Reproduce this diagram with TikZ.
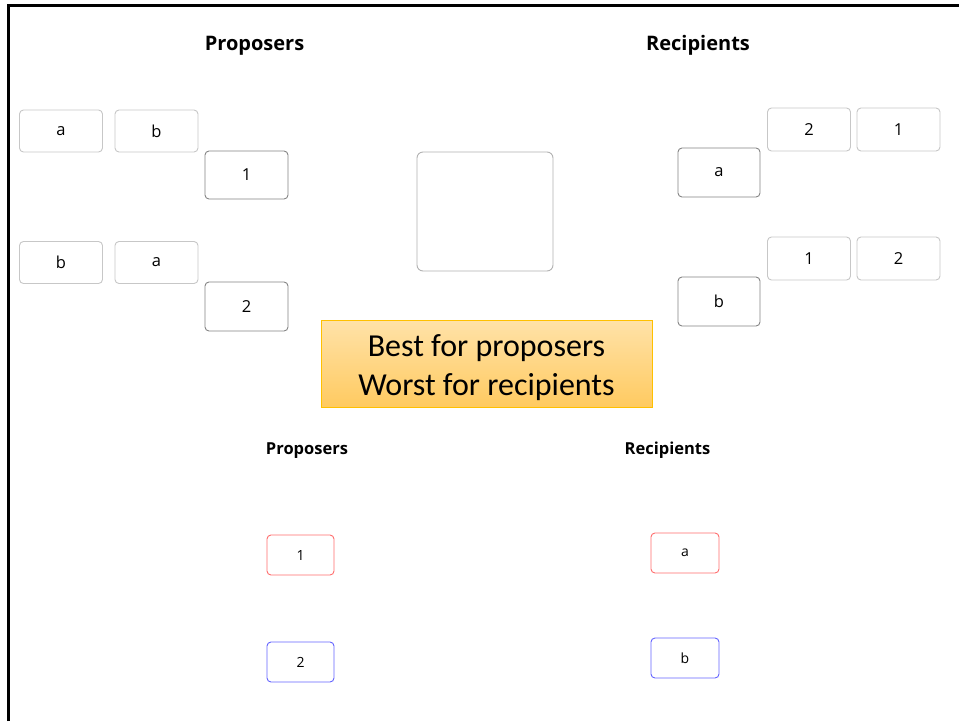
\documentclass[tikz,border=0pt]{standalone}
\usepackage{fontspec}
\setmainfont{Open Sans}
\newfontfamily\calfont{Carlito}
\begin{document}
\begin{tikzpicture}[x=1pt,y=-1pt,
  pref/.style={draw=black!22, line width=0.9pt, rounded corners=4pt, inner sep=0pt, minimum width=83pt, minimum height=42pt, font=\fontsize{16.5}{20}\selectfont},
  agent/.style={draw=black!48, line width=0.9pt, rounded corners=4pt, inner sep=0pt, minimum width=83pt, minimum height=48pt, font=\fontsize{16.5}{20}\selectfont},
  title/.style={inner sep=0pt, font=\bfseries\fontsize{20}{24}\selectfont},
  smalltitle/.style={inner sep=0pt, font=\bfseries\fontsize{16.5}{20}\selectfont},
  redbox/.style={draw={rgb,255:red,255;green,110;blue,110}, line width=0.9pt, rounded corners=4pt, inner sep=0pt, minimum width=68pt, minimum height=40pt, font=\fontsize{14}{17}\selectfont},
  bluebox/.style={draw={rgb,255:red,100;green,100;blue,255}, line width=0.9pt, rounded corners=4pt, inner sep=0pt, minimum width=68pt, minimum height=40pt, font=\fontsize{14}{17}\selectfont},
  note/.style={draw={rgb,255:red,255;green,192;blue,0}, line width=0.9pt, top color={rgb,255:red,255;green,226;blue,168}, bottom color={rgb,255:red,255;green,202;blue,96}, inner sep=0pt, minimum width=331pt, minimum height=87pt, align=center, font=\calfont\fontsize{32}{39}\selectfont}
]
\useasboundingbox (0,0) rectangle (959,721);
\fill[white] (0,0) rectangle (959,721);
\draw[line width=2.5pt] (8.3,721) -- (8.3,5.5) -- (959,5.5);

% titles
\node[title] (tprop) at (254.5,45.5) {Proposers};
\node[title] (trec) at (698,45.5) {Recipients};

% proposers, top
\node[pref] (p1a) at (61,131) {a};
\node[pref] (p1b) at (156.5,131) {b};
\node[agent] (p1) at (246.5,175) {1};
\node[pref] (p2b) at (61,262.5) {b};
\node[pref] (p2a) at (156.5,262.5) {a};
\node[agent, minimum height=49pt] (p2) at (246.5,306.5) {2};

% centre box
\node[draw=black!30, line width=0.9pt, rounded corners=6pt, minimum width=136pt, minimum height=119pt, inner sep=0pt] (mid) at (485,211.5) {};

% recipients, top
\node[pref, minimum height=43pt] (ra2) at (809,129.5) {2};
\node[pref, minimum height=43pt] (ra1) at (898.5,129.5) {1};
\node[agent, minimum width=82pt, minimum height=49pt] (ra) at (719,172.5) {a};
\node[pref, minimum height=43pt] (rb1) at (809,258.5) {1};
\node[pref, minimum height=43pt] (rb2) at (898.5,258.5) {2};
\node[agent, minimum width=82pt, minimum height=49pt] (rb) at (719,301.5) {b};

% note
\node[note, text depth=0pt] (note) at (486.5,364) {\raisebox{-3pt}{Best for proposers}\\\raisebox{-3pt}{Worst for recipients}};

% bottom
\node[smalltitle] (bprop) at (307,450.5) {Proposers};
\node[smalltitle] (brec) at (667.5,450.5) {Recipients};
\node[redbox, minimum width=67pt] (b1) at (300.5,555) {1};
\node[bluebox, minimum width=67pt] (b2) at (300.5,662) {2};
\node[redbox] (ba) at (685,553) {a};
\node[bluebox] (bb) at (685,658) {b};
\end{tikzpicture}
\end{document}
